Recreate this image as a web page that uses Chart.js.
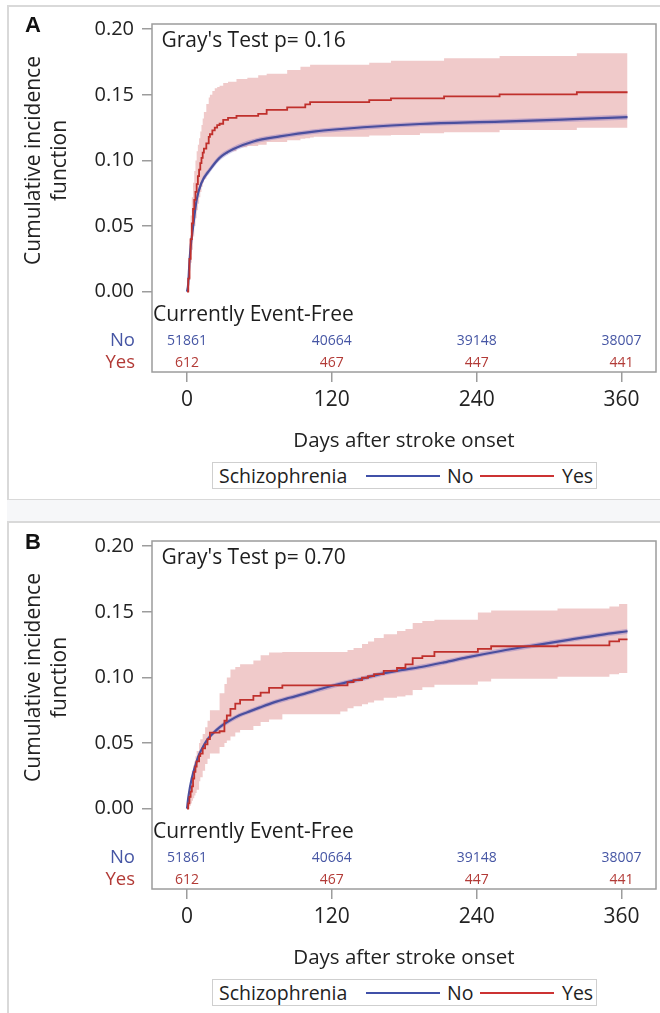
<!DOCTYPE html>
<html>
<head>
<meta charset="utf-8">
<script src="https://cdn.jsdelivr.net/npm/chart.js@4.4.0/dist/chart.umd.min.js"></script>
<style>
  html, body { margin: 0; padding: 0; background: #fff; overflow: hidden; }
  body { width: 660px; height: 1013px; position: relative; font-family: "Open Sans", sans-serif; }
  .frame { position: absolute; left: 7px; width: 700px; border: 2px solid #d9d9d9; box-sizing: border-box; background: #fff; }
  .gap { position: absolute; left: 7px; top: 500px; width: 660px; height: 22px; background: #f6f7f9; }
  .holder { position: absolute; left: 0; width: 660px; height: 500px; }
  .legend { position: absolute; left: 212px; width: 385px; height: 27px; border: 1px solid #cfcfcf; box-sizing: border-box; font-size: 19.5px; color: #222; background: #fff; }
  .legend span { position: absolute; top: 0; line-height: 25px; }
  .legend i { position: absolute; top: 12px; height: 0; border-top: 2px solid; }
</style>
</head>
<body>
<div class="frame" style="top:5px;height:496px"></div>
<div class="gap"></div>
<div class="frame" style="top:521px;height:600px"></div>

<div class="holder" style="top:0"><canvas id="panelA"></canvas></div>
<div class="holder" style="top:517px"><canvas id="panelB"></canvas></div>

<div class="legend" style="top:462px">
  <span style="left:6px">Schizophrenia</span>
  <i style="left:153px;width:74px;border-color:#4050a8"></i><span style="left:234px">No</span>
  <i style="left:267px;width:74px;border-color:#cc3333"></i><span style="left:349px">Yes</span>
</div>
<div class="legend" style="top:979px">
  <span style="left:6px">Schizophrenia</span>
  <i style="left:153px;width:74px;border-color:#4050a8"></i><span style="left:234px">No</span>
  <i style="left:267px;width:74px;border-color:#cc3333"></i><span style="left:349px">Yes</span>
</div>

<script>
const dayTicks = [0, 120, 240, 360];
const cifTicks = [0, 0.05, 0.10, 0.15, 0.20];
const riskDays = [0, 120, 240, 360];
const riskNo = [51861, 40664, 39148, 38007];
const riskYes = [612, 467, 447, 441];

// panel A - schizophrenia = No
const aNoDays = [0, 1, 2, 3, 5, 8, 12, 19, 27, 38, 55, 77, 105, 146, 193, 260, 320, 365];
const aNo = [0, 0.006, 0.022, 0.034, 0.049, 0.070, 0.083, 0.093, 0.102, 0.1085, 0.1145, 0.1183, 0.122, 0.1253, 0.1278, 0.1296, 0.1315, 0.133];
const aNoUpper = [0, 0.008, 0.0245, 0.0365, 0.0515, 0.0725, 0.0855, 0.0953, 0.1042, 0.1105, 0.1164, 0.1201, 0.1238, 0.1271, 0.1296, 0.1314, 0.1334, 0.135];
const aNoLower = [0, 0.004, 0.0195, 0.0315, 0.0465, 0.0675, 0.0805, 0.0907, 0.0998, 0.1065, 0.1126, 0.1165, 0.1202, 0.1235, 0.126, 0.1278, 0.1296, 0.131];

// panel A - schizophrenia = Yes (step points)
const aYesDays = [0, 1, 2, 3, 4, 5, 6, 7, 8, 9, 10, 11, 12, 13, 14, 16, 18, 19, 21, 23, 25, 27, 30, 34, 41, 50, 59, 66, 83, 94, 98, 102, 105, 151, 169, 193, 213, 259, 323, 365];
const aYes = [0, 0.010, 0.025, 0.040, 0.052, 0.063, 0.070, 0.076, 0.082, 0.088, 0.093, 0.098, 0.102, 0.106, 0.109, 0.113, 0.118, 0.120, 0.123, 0.125, 0.127, 0.128, 0.131, 0.1325, 0.134, 0.134, 0.1355, 0.1385, 0.1405, 0.1405, 0.1428, 0.1445, 0.1445, 0.146, 0.1473, 0.1473, 0.1488, 0.1503, 0.152, 0.152];
const aYesUpper = [0, 0.020, 0.040, 0.058, 0.072, 0.083, 0.092, 0.100, 0.107, 0.112, 0.117, 0.122, 0.127, 0.132, 0.137, 0.143, 0.148, 0.150, 0.153, 0.155, 0.156, 0.157, 0.159, 0.160, 0.162, 0.163, 0.165, 0.166, 0.169, 0.1715, 0.1715, 0.173, 0.173, 0.1745, 0.176, 0.176, 0.1779, 0.1797, 0.1817, 0.1817];
const aYesLower = [0, 0, 0.010, 0.022, 0.032, 0.042, 0.050, 0.056, 0.062, 0.067, 0.072, 0.076, 0.080, 0.083, 0.086, 0.090, 0.093, 0.095, 0.097, 0.099, 0.101, 0.1035, 0.105, 0.107, 0.110, 0.111, 0.112, 0.114, 0.1155, 0.1165, 0.117, 0.1175, 0.118, 0.119, 0.1195, 0.1207, 0.1215, 0.1232, 0.125, 0.125];

// panel B - schizophrenia = No
const bNoDays = [0, 1, 2, 3, 5, 7, 9, 12, 16, 20, 25, 30, 36, 43, 50, 60, 72, 85, 97, 110, 127, 145, 160, 177, 194, 213, 232, 260, 288, 315, 343, 365];
const bNo = [0, 0.008, 0.014, 0.019, 0.027, 0.033, 0.039, 0.045, 0.0515, 0.056, 0.0605, 0.064, 0.0675, 0.071, 0.0735, 0.077, 0.081, 0.0845, 0.0875, 0.091, 0.0952, 0.099, 0.1025, 0.1055, 0.108, 0.1115, 0.1153, 0.1202, 0.1245, 0.1285, 0.1325, 0.1352];
const bNoUpper = [0, 0.0098, 0.0158, 0.0208, 0.0288, 0.0348, 0.0408, 0.0468, 0.0533, 0.0578, 0.0623, 0.0658, 0.0693, 0.0728, 0.0753, 0.0788, 0.0828, 0.0863, 0.0893, 0.0928, 0.097, 0.1008, 0.1043, 0.1073, 0.1098, 0.1133, 0.1171, 0.122, 0.1263, 0.1303, 0.1343, 0.1372];
const bNoLower = [0, 0.0062, 0.0122, 0.0172, 0.0252, 0.0312, 0.0372, 0.0432, 0.0497, 0.0542, 0.0587, 0.0622, 0.0657, 0.0692, 0.0717, 0.0752, 0.0792, 0.0827, 0.0857, 0.0892, 0.0934, 0.0972, 0.1007, 0.1037, 0.1062, 0.1097, 0.1135, 0.1184, 0.1227, 0.1267, 0.1307, 0.1332];

// panel B - schizophrenia = Yes (step points)
const bYesDays = [0, 1, 2, 3, 4, 5, 6, 7, 8, 10, 11, 13, 15, 17, 19, 27, 31, 33, 36, 40, 44, 55, 61, 68, 79, 127, 133, 138, 145, 150, 155, 163, 174, 181, 187, 195, 205, 241, 252, 307, 350, 358, 365];
const bYes = [0, 0.004, 0.009, 0.013, 0.017, 0.023, 0.028, 0.032, 0.036, 0.040, 0.042, 0.046, 0.049, 0.053, 0.058, 0.059, 0.067, 0.071, 0.076, 0.080, 0.083, 0.086, 0.0885, 0.092, 0.094, 0.094, 0.0965, 0.098, 0.0998, 0.101, 0.1025, 0.105, 0.1072, 0.110, 0.1147, 0.1162, 0.1195, 0.1218, 0.1238, 0.1245, 0.1275, 0.129, 0.129];
const bYesUpper = [0, 0.012, 0.018, 0.024, 0.029, 0.033, 0.036, 0.040, 0.044, 0.050, 0.053, 0.057, 0.062, 0.067, 0.075, 0.088, 0.095, 0.100, 0.106, 0.108, 0.110, 0.113, 0.117, 0.119, 0.1195, 0.1195, 0.121, 0.1225, 0.1255, 0.1275, 0.130, 0.133, 0.1355, 0.137, 0.1415, 0.143, 0.144, 0.1495, 0.151, 0.1525, 0.154, 0.156, 0.156];
const bYesLower = [0, 0, 0.002, 0.004, 0.006, 0.008, 0.010, 0.012, 0.0145, 0.021, 0.024, 0.029, 0.034, 0.038, 0.042, 0.047, 0.050, 0.052, 0.055, 0.058, 0.060, 0.063, 0.066, 0.068, 0.072, 0.074, 0.0765, 0.078, 0.0795, 0.081, 0.0825, 0.0845, 0.0855, 0.0865, 0.0905, 0.0925, 0.0945, 0.097, 0.099, 0.1005, 0.1025, 0.1035, 0.1035];

const RED = '#c0302c';
const BLUE = '#4a4f9e';
const NO_TEXT = '#4656a4';
const YES_TEXT = '#b23a36';

Chart.defaults.font.family = '"Open Sans", sans-serif';
Chart.defaults.color = '#2a2a2a';

const pts = (xs, ys) => xs.map((x, i) => ({ x: x, y: ys[i] }));

// box, at-risk table, y title, panel letter
const kmDecor = {
  id: 'kmDecor',
  afterDraw(chart, args, opts) {
    const { ctx, chartArea: a, scales: { x, y } } = chart;
    ctx.save();
    ctx.strokeStyle = '#9c9c9c';
    ctx.lineWidth = 1.5;
    ctx.strokeRect(a.left, a.top, a.right - a.left, a.bottom - a.top);

    ctx.textBaseline = 'alphabetic';
    ctx.textAlign = 'left';
    ctx.fillStyle = '#1e1e1e';
    ctx.font = '21px "Open Sans"';
    ctx.fillText(opts.test, a.left + 9.5, a.top + 23);
    ctx.fillText('Currently Event-Free', a.left + 1, a.bottom - 51.5);

    ctx.font = '14px "Open Sans"';
    ctx.textAlign = 'center';
    riskDays.forEach((d, i) => {
      const px = x.getPixelForValue(d);
      ctx.fillStyle = NO_TEXT;
      ctx.fillText(String(riskNo[i]), px, a.bottom - 27.5);
      ctx.fillStyle = YES_TEXT;
      ctx.fillText(String(riskYes[i]), px, a.bottom - 5.3);
    });

    ctx.font = '18.5px "Open Sans"';
    ctx.textAlign = 'right';
    ctx.fillStyle = NO_TEXT;
    ctx.fillText('No', a.left - 17, a.bottom - 26);
    ctx.fillStyle = YES_TEXT;
    ctx.fillText('Yes', a.left - 17, a.bottom - 4);

    ctx.fillStyle = '#111';
    ctx.textAlign = 'left';
    ctx.font = 'bold 22px "Liberation Sans"';
    ctx.fillText(opts.letter, 25, 32);

    const cy = y.getPixelForValue(0.1);
    ctx.translate(34, cy);
    ctx.rotate(-Math.PI / 2);
    ctx.fillStyle = '#222';
    ctx.font = '21px "Open Sans"';
    ctx.textAlign = 'center';
    ctx.textBaseline = 'middle';
    ctx.fillText('Cumulative incidence', 0, 0);
    ctx.fillText('function', 0, 26);
    ctx.restore();
  }
};

function makePanel(id, letter, test, noDays, no, noUp, noLo, yesDays, yes, yesUp, yesLo) {
  new Chart(document.getElementById(id), {
    type: 'line',
    data: {
      datasets: [
        { label: 'Yes', data: pts(yesDays, yes), borderColor: RED, borderWidth: 1.8, stepped: true, pointRadius: 0, fill: false },
        { label: 'No', data: pts(noDays, no), borderColor: BLUE, borderWidth: 2.2, cubicInterpolationMode: 'monotone', pointRadius: 0, fill: false },
        { label: 'No upper', data: pts(noDays, noUp), borderColor: 'rgba(0,0,0,0)', borderWidth: 0, cubicInterpolationMode: 'monotone', pointRadius: 0, fill: '+1', backgroundColor: 'rgba(115,100,190,0.35)' },
        { label: 'No lower', data: pts(noDays, noLo), borderColor: 'rgba(0,0,0,0)', borderWidth: 0, cubicInterpolationMode: 'monotone', pointRadius: 0, fill: false },
        { label: 'Yes upper', data: pts(yesDays, yesUp), borderColor: 'rgba(0,0,0,0)', borderWidth: 0, stepped: true, pointRadius: 0, fill: '+1', backgroundColor: 'rgba(205,80,80,0.3)' },
        { label: 'Yes lower', data: pts(yesDays, yesLo), borderColor: 'rgba(0,0,0,0)', borderWidth: 0, stepped: true, pointRadius: 0, fill: false }
      ]
    },
    options: {
      responsive: true,
      maintainAspectRatio: false,
      animation: false,
      events: [],
      layout: { padding: { left: 0, top: 24, right: 4, bottom: 0 } },
      plugins: {
        legend: { display: false },
        tooltip: { enabled: false },
        kmDecor: { letter: letter, test: test }
      },
      scales: {
        x: {
          type: 'linear',
          min: -29,
          max: 388.6,
          afterBuildTicks: (s) => { s.ticks = dayTicks.map(v => ({ value: v })); },
          afterFit: (s) => { s.height = 128; },
          border: { display: false },
          grid: { drawOnChartArea: false, drawTicks: true, tickLength: 10, color: '#9c9c9c', lineWidth: 1.5 },
          ticks: { font: { size: 21 }, padding: 5, maxRotation: 0, autoSkip: false, color: '#222' },
          title: { display: true, text: 'Days after stroke onset', font: { size: 20.5 }, color: '#222', padding: { top: 0, bottom: 47 } }
        },
        y: {
          min: -0.0612,
          max: 0.204,
          afterBuildTicks: (s) => { s.ticks = cifTicks.map(v => ({ value: v })); },
          afterFit: (s) => { s.width = 152; },
          border: { display: false },
          grid: { drawOnChartArea: false, drawTicks: true, tickLength: 10, color: '#9c9c9c', lineWidth: 1.5 },
          ticks: { font: { size: 20 }, padding: 8, color: '#222', callback: (v) => Number(v).toFixed(2) }
        }
      }
    },
    plugins: [kmDecor]
  });
}

makePanel('panelA', 'A', "Gray's Test p= 0.16", aNoDays, aNo, aNoUpper, aNoLower, aYesDays, aYes, aYesUpper, aYesLower);
makePanel('panelB', 'B', "Gray's Test p= 0.70", bNoDays, bNo, bNoUpper, bNoLower, bYesDays, bYes, bYesUpper, bYesLower);
</script>
</body>
</html>
